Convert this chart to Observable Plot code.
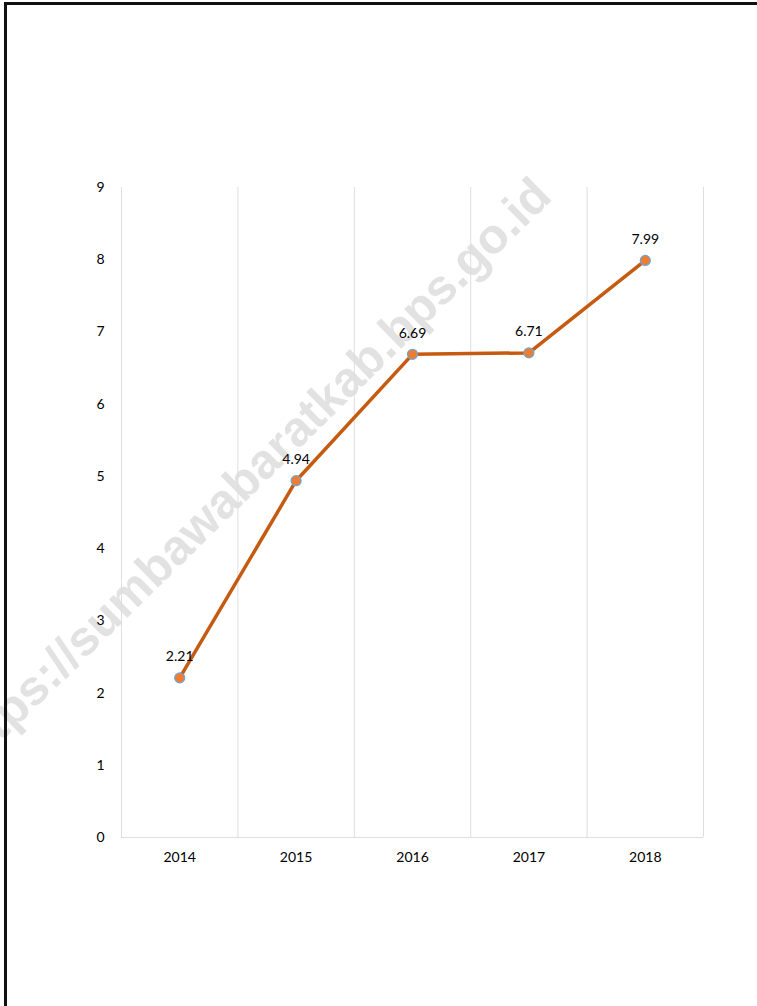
<!DOCTYPE html>
<html>
<head>
<meta charset="utf-8">
<script src="https://cdn.jsdelivr.net/npm/d3@7"></script>
<script src="https://cdn.jsdelivr.net/npm/@observablehq/plot@0.6"></script>
<style>
  html, body { margin: 0; padding: 0; background: #fff; }
  #wrap { position: relative; width: 757px; height: 1006px; overflow: hidden; }
  #frame { position: absolute; left: 4px; top: 2px; width: 800px; height: 1100px;
           border-top: 3px solid #111; border-left: 3px solid #111; }
  #wm { position: absolute; left: 0; top: 0; font-family: "Liberation Sans", Arial, sans-serif; font-weight: bold;
        font-size: 49px; color: #e2e2e2; white-space: nowrap; transform-origin: 0 0; }
  #chart { position: absolute; left: 0; top: 0; }
</style>
</head>
<body>
<div id="wrap">
  <div id="wm">https://sumbawabaratkab.bps.go.id</div>
  <div id="frame"></div>
  <div id="chart"></div>
</div>
<script>
const years = [2014, 2015, 2016, 2017, 2018];
const values = [2.21, 4.94, 6.69, 6.71, 7.99];
const yTicks = [0, 1, 2, 3, 4, 5, 6, 7, 8, 9];
const gridX = [2013.5, 2014.5, 2015.5, 2016.5, 2017.5, 2018.5];

const data = years.map((y, i) => ({year: y, value: values[i]}));

const chart = Plot.plot({
  width: 757,
  height: 1006,
  marginLeft: 121,
  marginRight: 54,
  marginTop: 187,
  marginBottom: 169,
  style: {background: "transparent", fontFamily: "Lato, sans-serif", fontSize: "14px", color: "#000", overflow: "visible"},
  x: {domain: [2013.5, 2018.5], ticks: years, tickFormat: d => String(d), tickSize: 0, tickPadding: 15, label: null},
  y: {domain: [0, 9], ticks: yTicks, tickSize: 0, tickPadding: 17, label: null},
  marks: [
    Plot.ruleX(gridX, {stroke: "#dedede", strokeWidth: 1}),
    Plot.ruleY([0], {stroke: "#dedede", strokeWidth: 1}),
    Plot.line(data, {x: "year", y: "value", stroke: "#C55A11", strokeWidth: 3.5}),
    Plot.dot(data, {x: "year", y: "value", r: 5, fill: "#ED7D31", stroke: "#6FA3D8", strokeWidth: 1.2}),
    Plot.text(data, {x: "year", y: "value", text: d => d.value.toFixed(2), dy: -21, fontSize: 14, fill: "#000"})
  ]
});
document.getElementById("chart").appendChild(chart);

// watermark position
const wm = document.getElementById("wm");
const w = wm.getBoundingClientRect().width;
const ang = -44.5 * Math.PI / 180;
const ex = 543, ey = 188;
const sx = ex - w * Math.cos(ang), sy = ey - w * Math.sin(ang);
wm.style.left = sx + "px";
wm.style.top = (sy - 30) + "px";
wm.style.transformOrigin = "0 30px";
wm.style.transform = "rotate(-44.5deg)";
</script>
</body>
</html>
